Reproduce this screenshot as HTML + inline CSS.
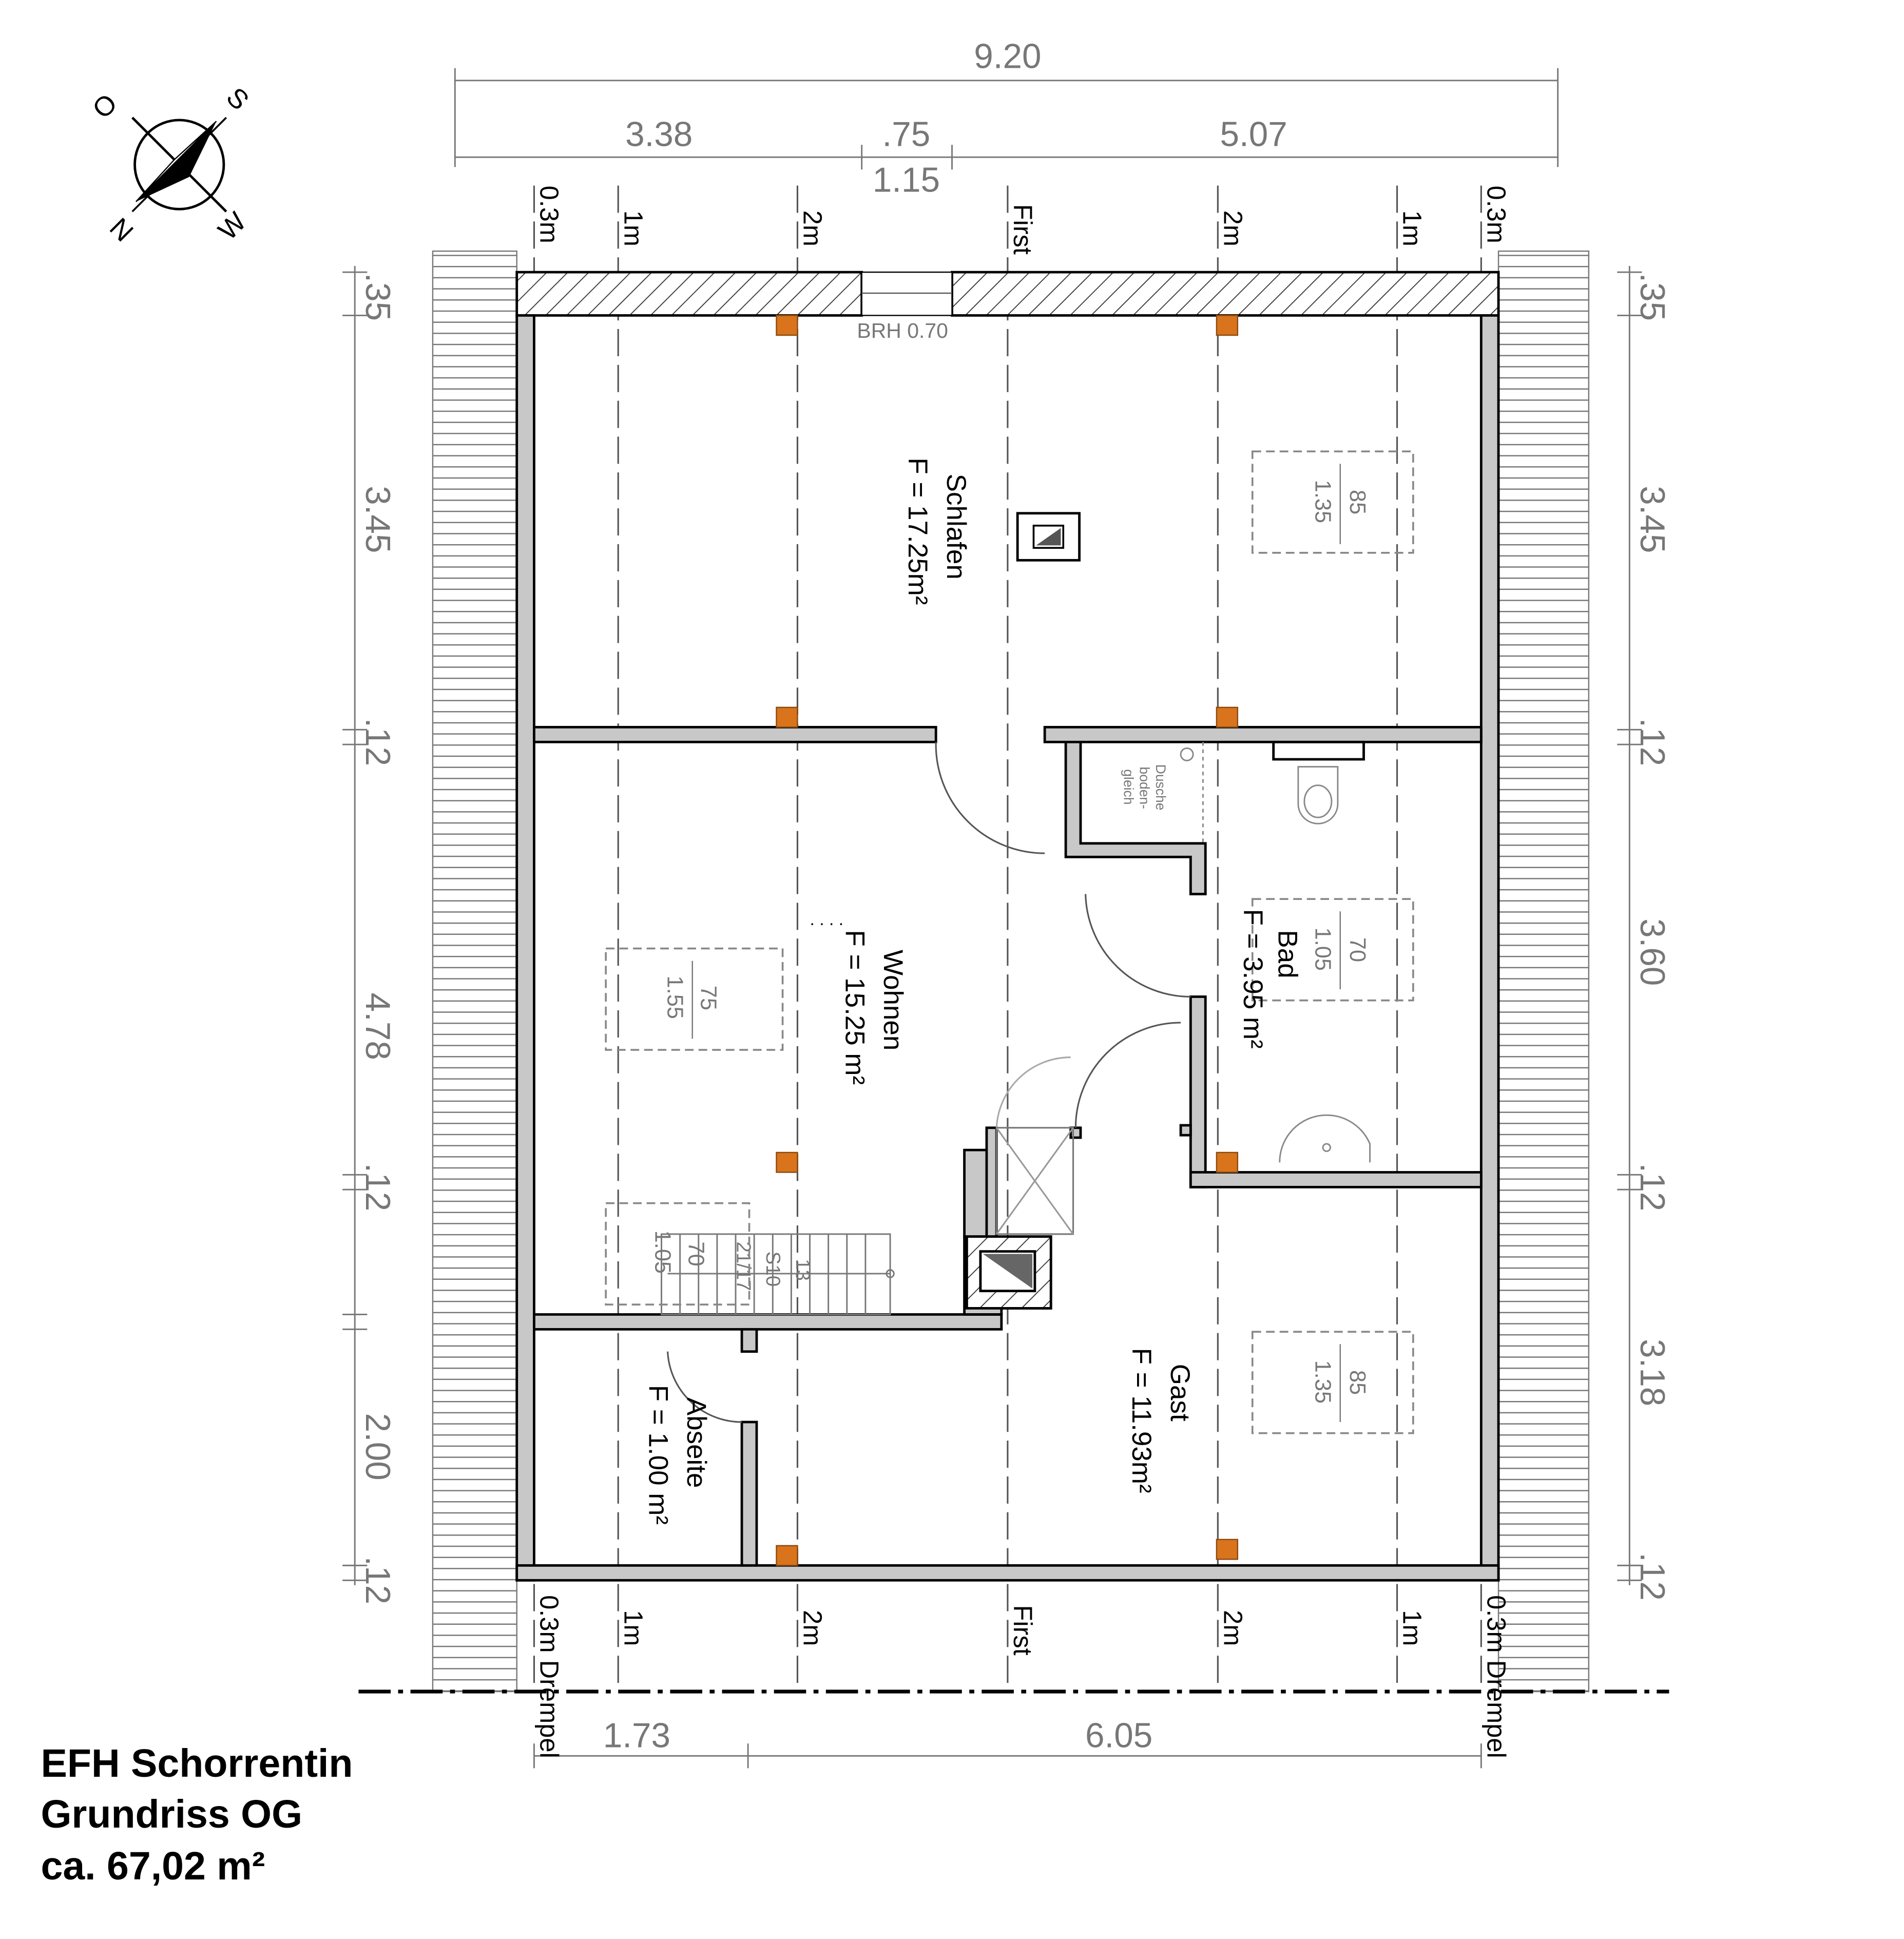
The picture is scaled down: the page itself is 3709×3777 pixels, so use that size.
<!DOCTYPE html>
<html><head><meta charset="utf-8"><style>
html,body{margin:0;padding:0;background:#fff}
svg{display:block}
text{font-family:"Liberation Sans",sans-serif}
</style></head><body>
<svg width="3709" height="3777" viewBox="0 0 1540 1568" xmlns="http://www.w3.org/2000/svg">
<defs>
<pattern id="h" width="12" height="12" patternUnits="userSpaceOnUse" patternTransform="rotate(45)">
<rect width="12" height="12" fill="#fff"/><line x1="0" y1="0" x2="0" y2="12" stroke="#333" stroke-width="1.5"/></pattern>
<pattern id="b" width="68" height="9" patternUnits="userSpaceOnUse">
<rect width="68" height="9" fill="#fff"/><line x1="0" y1="8.5" x2="68" y2="8.5" stroke="#777" stroke-width="1"/></pattern>
</defs>
<rect width="1540" height="1568" fill="#fff"/>
<g stroke="#777" stroke-width="1.2" fill="none">
<line x1="368" y1="65" x2="1260" y2="65"/>
<line x1="368" y1="127" x2="1260" y2="127"/>
<line x1="368" y1="55" x2="368" y2="135"/><line x1="1260" y1="55" x2="1260" y2="135"/>
<line x1="697" y1="117" x2="697" y2="137"/><line x1="770" y1="117" x2="770" y2="137"/>
<line x1="287" y1="215" x2="287" y2="1282"/>
<line x1="1318" y1="215" x2="1318" y2="1282"/>
<line x1="432" y1="1420" x2="1198" y2="1420"/>
<line x1="432" y1="1410" x2="432" y2="1430"/><line x1="605" y1="1410" x2="605" y2="1430"/><line x1="1198" y1="1410" x2="1198" y2="1430"/>
<line x1="277" y1="220" x2="297" y2="220"/><line x1="277" y1="255" x2="297" y2="255"/>
<line x1="277" y1="590" x2="297" y2="590"/><line x1="277" y1="602" x2="297" y2="602"/>
<line x1="277" y1="950" x2="297" y2="950"/><line x1="277" y1="962" x2="297" y2="962"/>
<line x1="277" y1="1063" x2="297" y2="1063"/><line x1="277" y1="1075" x2="297" y2="1075"/>
<line x1="277" y1="1266" x2="297" y2="1266"/><line x1="277" y1="1278" x2="297" y2="1278"/>
<line x1="1308" y1="220" x2="1328" y2="220"/><line x1="1308" y1="255" x2="1328" y2="255"/>
<line x1="1308" y1="590" x2="1328" y2="590"/><line x1="1308" y1="602" x2="1328" y2="602"/>
<line x1="1308" y1="950" x2="1328" y2="950"/><line x1="1308" y1="962" x2="1328" y2="962"/>
<line x1="1308" y1="1266" x2="1328" y2="1266"/><line x1="1308" y1="1278" x2="1328" y2="1278"/>
</g>
<g fill="#777" font-size="28" text-anchor="middle">
<text x="815" y="55">9.20</text>
<text x="533" y="118">3.38</text>
<text x="733" y="118">.75</text>
<text x="733" y="155">1.15</text>
<text x="1014" y="118">5.07</text>
<text x="515" y="1413">1.73</text>
<text x="905" y="1413">6.05</text>
<text transform="translate(296,240) rotate(90)">.35</text>
<text transform="translate(296,420) rotate(90)">3.45</text>
<text transform="translate(296,600) rotate(90)">.12</text>
<text transform="translate(296,830) rotate(90)">4.78</text>
<text transform="translate(296,960) rotate(90)">.12</text>
<text transform="translate(296,1170) rotate(90)">2.00</text>
<text transform="translate(296,1278) rotate(90)">.12</text>
<text transform="translate(1327,240) rotate(90)">.35</text>
<text transform="translate(1327,420) rotate(90)">3.45</text>
<text transform="translate(1327,600) rotate(90)">.12</text>
<text transform="translate(1327,770) rotate(90)">3.60</text>
<text transform="translate(1327,960) rotate(90)">.12</text>
<text transform="translate(1327,1110) rotate(90)">3.18</text>
<text transform="translate(1327,1275) rotate(90)">.12</text>
</g>
<rect x="350" y="203" width="68" height="1165" fill="url(#b)" stroke="#777"/>
<rect x="1212" y="203" width="73" height="1165" fill="url(#b)" stroke="#777"/>
<g stroke="#555" stroke-width="1.3" stroke-dasharray="22,7" fill="none">
<line x1="432" y1="150" x2="432" y2="1365"/><line x1="500" y1="150" x2="500" y2="1365"/>
<line x1="645" y1="150" x2="645" y2="1365"/><line x1="815" y1="150" x2="815" y2="1365"/>
<line x1="985" y1="150" x2="985" y2="1365"/><line x1="1130" y1="150" x2="1130" y2="1365"/>
<line x1="1198" y1="150" x2="1198" y2="1365"/>
</g>
<line x1="290" y1="1368" x2="1350" y2="1368" stroke="#000" stroke-width="3" stroke-dasharray="26,6,4,6"/>
<g fill="#000" font-size="21">
<text transform="translate(437,150) rotate(90)">0.3m</text>
<text transform="translate(505,170) rotate(90)">1m</text>
<text transform="translate(650,170) rotate(90)">2m</text>
<text transform="translate(820,165) rotate(90)">First</text>
<text transform="translate(990,170) rotate(90)">2m</text>
<text transform="translate(1135,170) rotate(90)">1m</text>
<text transform="translate(1203,150) rotate(90)">0.3m</text>
<text transform="translate(437,1290) rotate(90)">0.3m Drempel</text>
<text transform="translate(505,1302) rotate(90)">1m</text>
<text transform="translate(650,1302) rotate(90)">2m</text>
<text transform="translate(820,1298) rotate(90)">First</text>
<text transform="translate(990,1302) rotate(90)">2m</text>
<text transform="translate(1135,1302) rotate(90)">1m</text>
<text transform="translate(1203,1290) rotate(90)">0.3m Drempel</text>
</g>
<rect x="418" y="220" width="279" height="35" fill="url(#h)" stroke="#000" stroke-width="2"/>
<rect x="770" y="220" width="442" height="35" fill="url(#h)" stroke="#000" stroke-width="2"/>
<rect x="697" y="220" width="73" height="35" fill="#fff" stroke="#000" stroke-width="1"/>
<line x1="697" y1="237" x2="770" y2="237" stroke="#555"/>
<text x="730" y="273" font-size="17" fill="#777" text-anchor="middle">BRH 0.70</text>
<g fill="#c8c8c8" stroke="#000" stroke-width="2">
<rect x="418" y="255" width="14" height="1023"/>
<rect x="1198" y="255" width="14" height="1023"/>
<rect x="418" y="1266" width="794" height="12"/>
<rect x="432" y="588" width="325" height="12"/>
<rect x="845" y="588" width="353" height="12"/>
<path d="M862 600 H874 V682 H975 V723 H963 V693 H862 Z"/>
<rect x="963" y="806" width="12" height="154"/>
<rect x="963" y="948" width="235" height="12"/>
<rect x="955" y="910" width="8" height="8"/>
<rect x="432" y="1063" width="378" height="12"/>
<rect x="780" y="930" width="20" height="70"/>
<rect x="798" y="912" width="8" height="88"/>
<rect x="866" y="912" width="8" height="8"/>
<rect x="600" y="1075" width="12" height="18"/>
<rect x="600" y="1150" width="12" height="116"/>
<path d="M780 1000 H850 V1058 H810 V1063 H780 Z"/>
</g>
<rect x="782" y="1000" width="68" height="58" fill="url(#h)" stroke="#000" stroke-width="2"/>
<rect x="793" y="1012" width="44" height="32" fill="#fff" stroke="#000" stroke-width="2"/>
<path d="M795 1014 L835 1042 L835 1014 Z" fill="#666"/>
<g fill="none" stroke="#555" stroke-width="1.3">
<path d="M757 600 A88 88 0 0 0 845 690"/>
<path d="M878 723 A85 85 0 0 0 963 806"/>
<path d="M870 912 A85 85 0 0 1 955 827"/>
<path d="M540 1093 A60 60 0 0 0 600 1150"/>
<path d="M806 912 A60 60 0 0 1 866 855" stroke="#aaa"/>
<rect x="806" y="912" width="62" height="86" stroke="#777"/>
<line x1="806" y1="912" x2="868" y2="998" stroke="#999"/><line x1="868" y1="912" x2="806" y2="998" stroke="#999"/>
</g>
<g stroke="#777" stroke-width="1.2" fill="none">
<rect x="535" y="998" width="185" height="65"/>
<path d="M550 998 V1063 M565 998 V1063 M580 998 V1063 M595 998 V1063 M610 998 V1063 M625 998 V1063 M640 998 V1063 M655 998 V1063 M670 998 V1063 M685 998 V1063 M700 998 V1063"/>
<line x1="540" y1="1030" x2="720" y2="1030"/>
<circle cx="720" cy="1030" r="3"/>
</g>
<g fill="#777" font-size="16">
<text transform="translate(644,1018) rotate(90)">13</text>
<text transform="translate(620,1012) rotate(90)">S10</text>
<text transform="translate(596,1004) rotate(90)">21/17</text>
</g>
<g fill="none" stroke="#888" stroke-width="1.5" stroke-dasharray="7,4">
<rect x="1013" y="365" width="130" height="82"/>
<rect x="1013" y="727" width="130" height="82"/>
<rect x="1013" y="1077" width="130" height="82"/>
<rect x="490" y="767" width="143" height="82"/>
<rect x="490" y="973" width="116" height="82"/>
</g>
<g fill="#777" font-size="18">
<text transform="translate(1092,396) rotate(90)">85</text><text transform="translate(1064,388) rotate(90)">1.35</text>
<text transform="translate(1092,758) rotate(90)">70</text><text transform="translate(1064,750) rotate(90)">1.05</text>
<text transform="translate(1092,1108) rotate(90)">85</text><text transform="translate(1064,1100) rotate(90)">1.35</text>
<text transform="translate(567,797) rotate(90)">75</text><text transform="translate(540,789) rotate(90)">1.55</text>
<text transform="translate(557,1004) rotate(90)">70</text><text transform="translate(530,995) rotate(90)">1.05</text>
</g>
<g stroke="#777" stroke-width="1"><line x1="1084" y1="375" x2="1084" y2="440"/><line x1="1084" y1="737" x2="1084" y2="800"/><line x1="1084" y1="1087" x2="1084" y2="1150"/><line x1="560" y1="777" x2="560" y2="840"/></g>
<g fill="#d9741c" stroke="#8a4a10">
<rect x="628" y="255" width="17" height="16"/><rect x="984" y="255" width="17" height="16"/>
<rect x="628" y="572" width="17" height="16"/><rect x="984" y="572" width="17" height="16"/>
<rect x="628" y="932" width="17" height="16"/><rect x="984" y="932" width="17" height="16"/>
<rect x="628" y="1250" width="17" height="16"/><rect x="984" y="1245" width="17" height="16"/>
</g>
<rect x="823" y="415" width="50" height="38" fill="#fff" stroke="#000" stroke-width="2"/>
<rect x="836" y="425" width="24" height="18" fill="#fff" stroke="#000" stroke-width="1.5"/>
<path d="M838 441 L858 427 V441 Z" fill="#555"/>
<g fill="none" stroke="#888" stroke-width="1.2">
<rect x="1030" y="600" width="73" height="14" stroke="#000" stroke-width="2"/>
<path d="M1050 620 H1082 V650 A16 16 0 0 1 1050 650 Z"/>
<ellipse cx="1066" cy="648" rx="11" ry="13"/>
<path d="M1035 940 A38 38 0 0 1 1108 925 V940"/>
<circle cx="1073" cy="928" r="3"/>
<circle cx="960" cy="610" r="5"/>
<line x1="973" y1="600" x2="973" y2="682" stroke-dasharray="3,3"/>
</g>
<g fill="#777" font-size="11">
<text transform="translate(935,618) rotate(90)">Dusche</text>
<text transform="translate(922,620) rotate(90)">boden-</text>
<text transform="translate(909,622) rotate(90)">gleich</text>
</g>
<g fill="#000" font-size="22">
<text transform="translate(766,383) rotate(90)">Schlafen</text>
<text transform="translate(735,370) rotate(90)">F = 17.25m²</text>
<text transform="translate(715,768) rotate(90)">Wohnen</text>
<text transform="translate(684,752) rotate(90)">F = 15.25 m²</text>
<text transform="translate(1034,752) rotate(90)">Bad</text>
<text transform="translate(1006,735) rotate(90)">F = 3.95 m²</text>
<text transform="translate(947,1103) rotate(90)">Gast</text>
<text transform="translate(916,1090) rotate(90)">F = 11.93m²</text>
<text transform="translate(556,1130) rotate(90)">Abseite</text>
<text transform="translate(525,1120) rotate(90)">F = 1.00 m²</text>
</g>
<text x="655" y="748" font-size="14" fill="#000">. . . .</text>
<g transform="translate(145,133)">
<circle r="36" fill="none" stroke="#000" stroke-width="2"/>
<line x1="-38" y1="-38" x2="38" y2="38" stroke="#000" stroke-width="2"/>
<line x1="38" y1="-38" x2="-38" y2="38" stroke="#000" stroke-width="1.5"/>
<path d="M-35 30 L30 -35 L8 10 Z" fill="#000"/>
<path d="M-35 30 L30 -35 L-4 -4 Z" fill="#fff" stroke="#000" stroke-width="1"/>
<g font-size="22" fill="#000" text-anchor="middle">
<text transform="translate(-55,-42) rotate(-45)">O</text>
<text transform="translate(42,-48) rotate(45)">S</text>
<text transform="translate(-52,58) rotate(45)">N</text>
<text transform="translate(48,55) rotate(-45)">W</text>
</g>
</g>
<g font-size="32" font-weight="bold" fill="#000">
<text x="33" y="1437">EFH Schorrentin</text>
<text x="33" y="1478">Grundriss  OG</text>
<text x="33" y="1520">ca. 67,02 m²</text>
</g>
</svg>
</body></html>
